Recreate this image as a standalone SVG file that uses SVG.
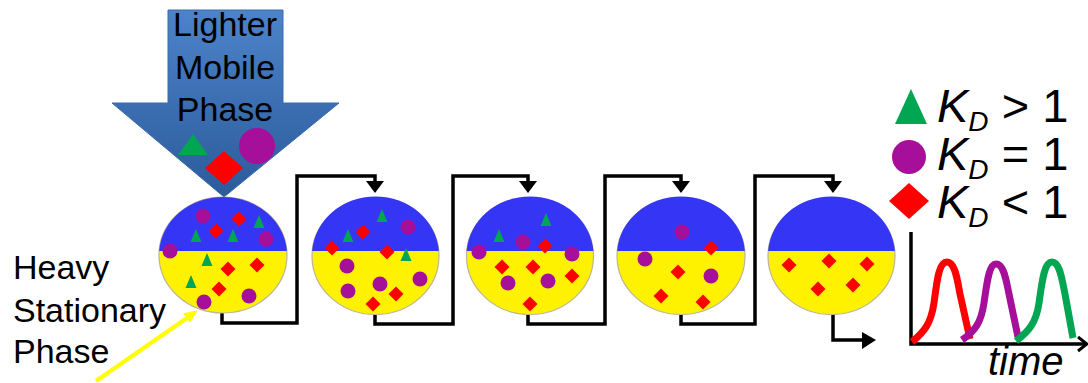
<svg xmlns="http://www.w3.org/2000/svg" xmlns:xlink="http://www.w3.org/1999/xlink" width="1088" height="383" viewBox="0 0 1088 383">
<style>
.lbl{font-family:"Liberation Sans",Arial,sans-serif;fill:#000}
.blue{fill:#3535f5}
.yel{fill:#fff200;stroke:#bdb594;stroke-width:1.2}
.g{fill:#00a651}
.p{fill:#a50f9a}
.r{fill:#ff0000}
.conn{fill:none;stroke:#000;stroke-width:3.5;stroke-linejoin:miter}
.head{fill:#000}
.peak{fill:none;stroke-width:7}
</style>
<defs>
<linearGradient id="arrowGrad" x1="0" y1="0" x2="0" y2="1">
<stop offset="0" stop-color="#4c83c9"/>
<stop offset="1" stop-color="#2b5b9b"/>
</linearGradient>
<polygon id="tri" points="0,-7 5.5,6 -5.5,6"/>
<polygon id="dia" points="0,-7.5 7.5,0 0,7.5 -7.5,0"/>
<circle id="dot" r="7.5"/>
</defs>

<g id="mobile-phase-arrow">
<polygon points="168,10 283,10 283,103 339,103 224,197 112,103 168,103" fill="url(#arrowGrad)" stroke="#3a6aae" stroke-width="1"/>
<text class="lbl" font-size="34" text-anchor="middle" x="225" y="36">Lighter</text>
<text class="lbl" font-size="34" text-anchor="middle" x="225" y="79">Mobile</text>
<text class="lbl" font-size="34" text-anchor="middle" x="225" y="121">Phase</text>
<polygon class="g" points="193,134 208,155 178,155"/>
<circle class="p" cx="257" cy="146" r="18"/>
<polygon class="r" points="224,151 243,168 224,185 205,168"/>
</g>

<g id="stationary-label">
<text class="lbl" font-size="34" x="13" y="279">Heavy</text>
<text class="lbl" font-size="34" x="13" y="322">Stationary</text>
<text class="lbl" font-size="34" x="13" y="363">Phase</text>
<line x1="96" y1="381" x2="187" y2="318" stroke="#ffff00" stroke-width="4"/>
<polygon points="197,311 190,322 184,313.7" fill="#ffff00" stroke="#ffff00" stroke-width="1"/>
</g>

<g id="connectors">
<path class="conn" d="M222,313 V323 H297 V176 H375 V182"/>
<polygon class="head" points="366,181 384,181 375,193"/>
<path class="conn" d="M375,314 V324 H453 V176 H528 V182"/>
<polygon class="head" points="519,181 537,181 528,193"/>
<path class="conn" d="M528,314 V324 H605 V176 H681 V182"/>
<polygon class="head" points="672,181 690,181 681,193"/>
<path class="conn" d="M681,314 V324 H755 V176 H833 V182"/>
<polygon class="head" points="824,181 842,181 833,193"/>
<path class="conn" d="M833,314 V340 H864"/>
<polygon class="head" points="862,332 876,340 862,349"/>
</g>

<g id="stage1">
<ellipse class="yel" cx="223" cy="255" rx="64" ry="58"/>
<path class="blue" d="M159.15,251 A64,58 0 0 1 286.85,251 Z"/>
<use href="#dot" class="p" x="203" y="216"/>
<use href="#dot" class="p" x="266" y="239"/>
<use href="#dot" class="p" x="170" y="251"/>
<use href="#dot" class="p" x="249" y="296"/>
<use href="#dot" class="p" x="204" y="302"/>
<use href="#dia" class="r" x="239" y="219"/>
<use href="#dia" class="r" x="216" y="231"/>
<use href="#dia" class="r" x="228" y="269"/>
<use href="#dia" class="r" x="257" y="265"/>
<use href="#dia" class="r" x="219" y="289"/>
<use href="#tri" class="g" x="259" y="222"/>
<use href="#tri" class="g" x="196" y="236"/>
<use href="#tri" class="g" x="233" y="236"/>
<use href="#tri" class="g" x="207" y="260"/>
<use href="#tri" class="g" x="191" y="282"/>
</g>

<g id="stage2">
<ellipse class="yel" cx="375.5" cy="256" rx="63.5" ry="58.5"/>
<path class="blue" d="M312.15,251 A63.5,58.5 0 0 1 438.85,251 Z"/>
<use href="#tri" class="g" x="382" y="216"/>
<use href="#tri" class="g" x="348" y="236"/>
<use href="#tri" class="g" x="406" y="255"/>
<use href="#dot" class="p" x="408" y="227"/>
<use href="#dot" class="p" x="347" y="266"/>
<use href="#dot" class="p" x="420" y="279"/>
<use href="#dot" class="p" x="380" y="284"/>
<use href="#dot" class="p" x="348" y="291"/>
<use href="#dia" class="r" x="363" y="232"/>
<use href="#dia" class="r" x="332" y="248"/>
<use href="#dia" class="r" x="387" y="252"/>
<use href="#dia" class="r" x="396" y="294"/>
<use href="#dia" class="r" x="373" y="304"/>
</g>

<g id="stage3">
<ellipse class="yel" cx="530" cy="256" rx="63.5" ry="58.5"/>
<path class="blue" d="M466.65,251 A63.5,58.5 0 0 1 593.35,251 Z"/>
<use href="#tri" class="g" x="546" y="220"/>
<use href="#tri" class="g" x="499" y="236"/>
<use href="#dot" class="p" x="523" y="242"/>
<use href="#dot" class="p" x="479" y="252"/>
<use href="#dot" class="p" x="572" y="254"/>
<use href="#dot" class="p" x="508" y="283"/>
<use href="#dot" class="p" x="548" y="281"/>
<use href="#dia" class="r" x="545" y="246"/>
<use href="#dia" class="r" x="502" y="267"/>
<use href="#dia" class="r" x="533" y="267"/>
<use href="#dia" class="r" x="572" y="276"/>
<use href="#dia" class="r" x="530" y="304"/>
</g>

<g id="stage4">
<ellipse class="yel" cx="681" cy="256" rx="64" ry="58.5"/>
<path class="blue" d="M617.15,251 A64,58.5 0 0 1 744.85,251 Z"/>
<use href="#dot" class="p" x="682" y="232"/>
<use href="#dot" class="p" x="645" y="259"/>
<use href="#dot" class="p" x="711" y="276"/>
<use href="#dia" class="r" x="711" y="248"/>
<use href="#dia" class="r" x="678" y="272"/>
<use href="#dia" class="r" x="661" y="296"/>
<use href="#dia" class="r" x="703" y="302"/>
</g>

<g id="stage5">
<ellipse class="yel" cx="831.5" cy="256" rx="63.5" ry="58.5"/>
<path class="blue" d="M768.15,251 A63.5,58.5 0 0 1 894.85,251 Z"/>
<use href="#dia" class="r" x="789" y="265"/>
<use href="#dia" class="r" x="829" y="261"/>
<use href="#dia" class="r" x="867" y="264"/>
<use href="#dia" class="r" x="818" y="289"/>
<use href="#dia" class="r" x="853" y="285"/>
</g>

<g id="legend">
<polygon class="g" points="911,89 927,124 895,124"/>
<circle class="p" cx="909" cy="157" r="17"/>
<polygon class="r" points="909,183 929,201 909,219 889,201"/>
<text class="lbl" font-size="47" x="937" y="122"><tspan font-style="italic">K</tspan><tspan font-style="italic" font-size="28" dy="9">D</tspan><tspan dy="-9"> &gt; 1</tspan></text>
<text class="lbl" font-size="47" x="937" y="170"><tspan font-style="italic">K</tspan><tspan font-style="italic" font-size="28" dy="9">D</tspan><tspan dy="-9"> = 1</tspan></text>
<text class="lbl" font-size="47" x="937" y="218"><tspan font-style="italic">K</tspan><tspan font-style="italic" font-size="28" dy="9">D</tspan><tspan dy="-9"> &lt; 1</tspan></text>
</g>

<g id="chromatogram">
<path d="M911,232 V344 H1086" fill="none" stroke="#000" stroke-width="3.5"/>
<path d="M1078,337 L1087,344 L1078,351" fill="none" stroke="#000" stroke-width="3"/>
<path class="peak" stroke="#ff0000" d="M912,342 C925,331 931,323 934,303 C937,280 939,262 947,262 C955,262 957,278 960,294 L970,339"/>
<path class="peak" stroke="#a50f9a" d="M962,340 C975,331 981,323 984,303 C987,282 989,264 996,264 C1004,264 1006,280 1009,294 L1018,337"/>
<path class="peak" stroke="#00a651" d="M1016,341 C1029,331 1036,323 1039,303 C1042,282 1044,262 1052,262 C1060,262 1062,280 1065,294 L1073,338"/>
<text class="lbl" font-size="40" font-style="italic" x="988" y="375">time</text>
</g>
</svg>
